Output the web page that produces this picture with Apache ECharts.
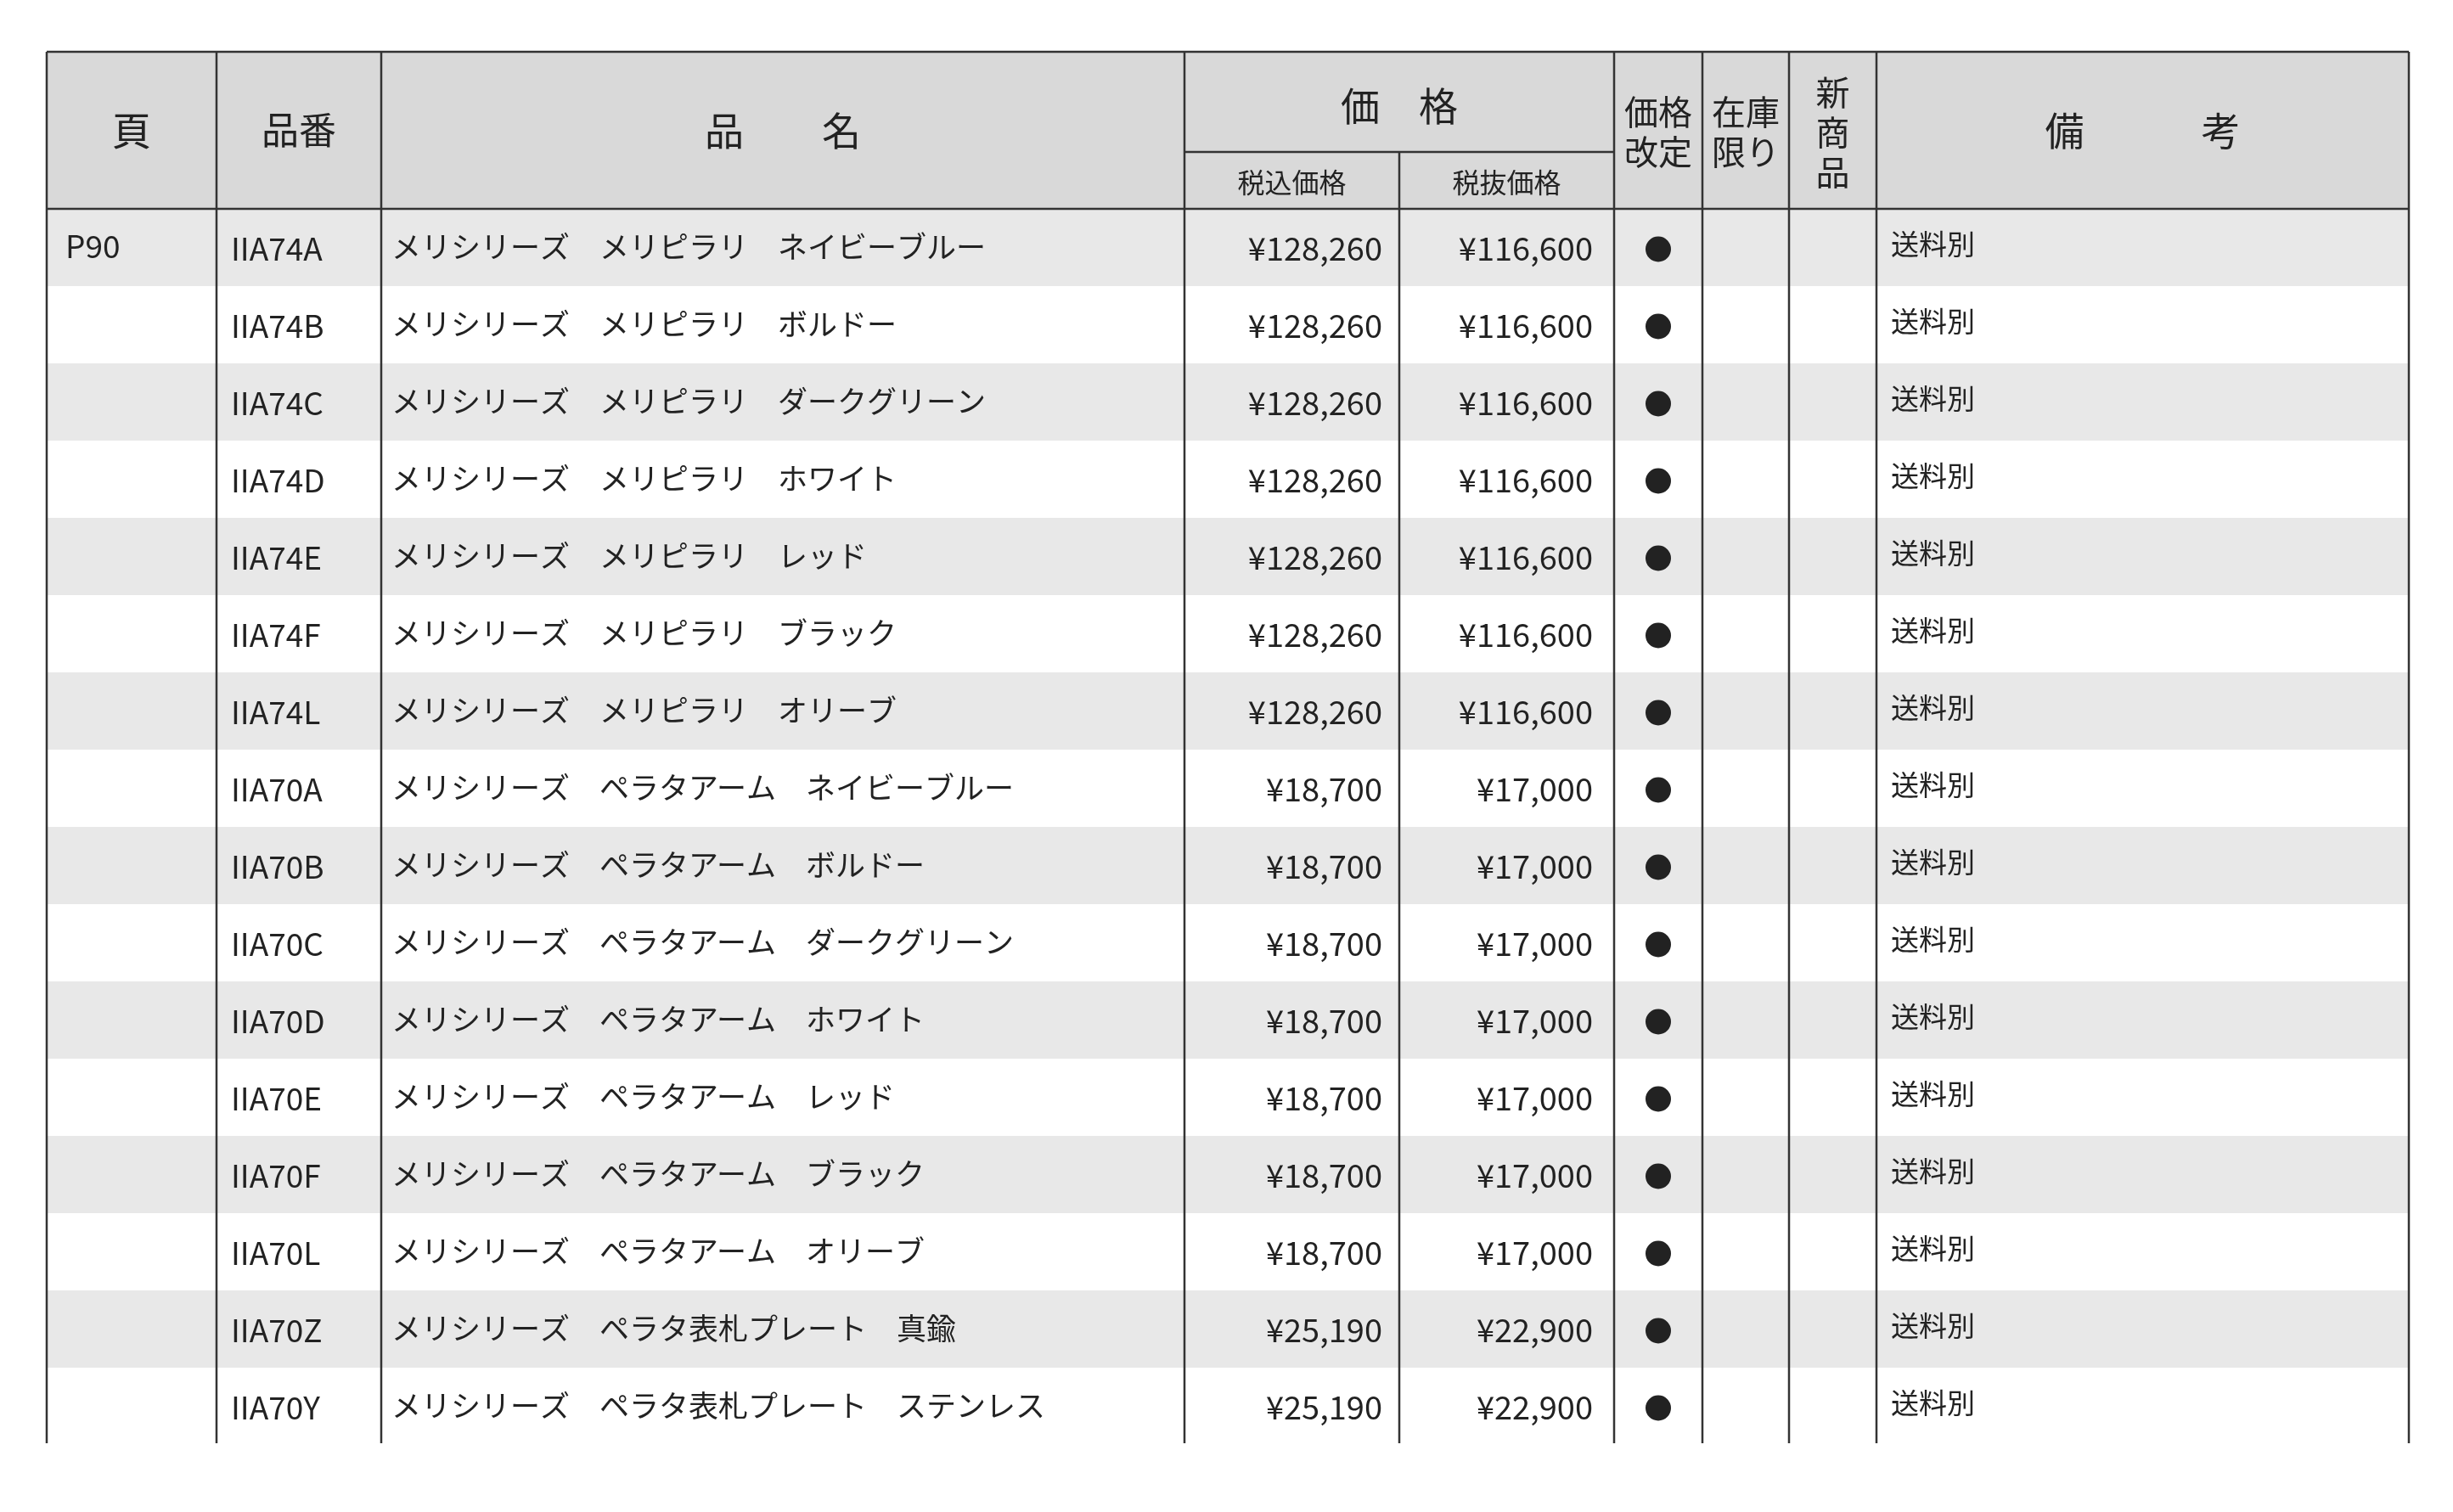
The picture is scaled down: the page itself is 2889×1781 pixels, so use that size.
<!DOCTYPE html>
<html><head><meta charset="utf-8">
<script src="https://cdn.jsdelivr.net/npm/echarts@6/dist/echarts.min.js"></script>
<style>html,body{margin:0;background:#fff}#c{width:2889px;height:1781px}</style>
</head><body><div id="c"></div>
<script>
// 価格表のデータ
var pages = ['P90', '', '', '', '', '', '', '', '', '', '', '', '', '', '', ''];
var codes = ['IIA74A','IIA74B','IIA74C','IIA74D','IIA74E','IIA74F','IIA74L','IIA70A','IIA70B','IIA70C','IIA70D','IIA70E','IIA70F','IIA70L','IIA70Z','IIA70Y'];
var names = [
  'メリシリーズ　メリピラリ　ネイビーブルー','メリシリーズ　メリピラリ　ボルドー','メリシリーズ　メリピラリ　ダークグリーン',
  'メリシリーズ　メリピラリ　ホワイト','メリシリーズ　メリピラリ　レッド','メリシリーズ　メリピラリ　ブラック',
  'メリシリーズ　メリピラリ　オリーブ','メリシリーズ　ペラタアーム　ネイビーブルー','メリシリーズ　ペラタアーム　ボルドー',
  'メリシリーズ　ペラタアーム　ダークグリーン','メリシリーズ　ペラタアーム　ホワイト','メリシリーズ　ペラタアーム　レッド',
  'メリシリーズ　ペラタアーム　ブラック','メリシリーズ　ペラタアーム　オリーブ','メリシリーズ　ペラタ表札プレート　真鍮',
  'メリシリーズ　ペラタ表札プレート　ステンレス'];
var taxIn = [128260,128260,128260,128260,128260,128260,128260,18700,18700,18700,18700,18700,18700,18700,25190,25190];
var taxEx = [116600,116600,116600,116600,116600,116600,116600,17000,17000,17000,17000,17000,17000,17000,22900,22900];
var revised = [1,1,1,1,1,1,1,1,1,1,1,1,1,1,1,1];
var notes = codes.map(function(){ return '送料別'; });

(function () {
// レイアウト
var colX = [55, 255, 449, 1395, 1648, 1901, 2005, 2107, 2210, 2837];
var tableTop = 61, subY = 179, headBottom = 246, rowH = 91, bottom = 1700;
var font = '"Noto Sans CJK JP", "Noto Sans", sans-serif';
var ink = '#222';

function yen(v) { return '¥' + v.toLocaleString('en-US'); }
function txt(x, y, s, size, align) {
  return { type: 'text', x: x, y: y, style: { text: s, font: size + 'px ' + font, fill: ink, align: align || 'left', verticalAlign: 'middle' } };
}
function line(x1, y1, x2, y2) {
  return { type: 'line', shape: { x1: x1, y1: y1, x2: x2, y2: y2 }, style: { stroke: '#333', lineWidth: 2.5 } };
}

var els = [];
els.push({ type: 'rect', shape: { x: colX[0], y: tableTop, width: colX[9] - colX[0], height: headBottom - tableTop }, style: { fill: '#d9d9d9' } });
codes.forEach(function (c, i) {
  var y = headBottom + i * rowH;
  if (i % 2 === 0) els.push({ type: 'rect', shape: { x: colX[0], y: y, width: colX[9] - colX[0], height: rowH }, style: { fill: '#e8e8e8' } });
  var cy = y + rowH / 2 + 1;
  els.push(txt(colX[0] + 22, cy - 3, pages[i], 37));
  els.push(txt(colX[1] + 17, cy, c, 37));
  els.push(txt(colX[2] + 12, cy - 2, names[i], 35));
  els.push(txt(colX[4] - 20, cy, yen(taxIn[i]), 38, 'right'));
  els.push(txt(colX[5] - 25, cy, yen(taxEx[i]), 38, 'right'));
  if (revised[i]) els.push({ type: 'circle', shape: { cx: (colX[5] + colX[6]) / 2, cy: cy + 1, r: 15 }, style: { fill: '#222' } });
  els.push(txt(colX[8] + 17, cy - 5, notes[i], 33));
});

// 見出し
var hy = (tableTop + headBottom) / 2;
els.push(txt((colX[0] + colX[1]) / 2, hy, '頁', 46, 'center'));
els.push(txt((colX[1] + colX[2]) / 2, hy, '品番', 44, 'center'));
els.push(txt((colX[2] + colX[3]) / 2, hy, '品　　名', 46, 'center'));
els.push(txt((colX[3] + colX[5]) / 2, (tableTop + subY) / 2 + 5, '価　格', 46, 'center'));
els.push(txt((colX[3] + colX[4]) / 2, (subY + headBottom) / 2 + 2, '税込価格', 32, 'center'));
els.push(txt((colX[4] + colX[5]) / 2, (subY + headBottom) / 2 + 2, '税抜価格', 32, 'center'));
els.push(txt((colX[5] + colX[6]) / 2, hy - 22, '価格', 40, 'center'));
els.push(txt((colX[5] + colX[6]) / 2, hy + 25, '改定', 40, 'center'));
els.push(txt((colX[6] + colX[7]) / 2, hy - 22, '在庫', 40, 'center'));
els.push(txt((colX[6] + colX[7]) / 2, hy + 25, '限り', 40, 'center'));
els.push(txt((colX[7] + colX[8]) / 2, hy - 45, '新', 40, 'center'));
els.push(txt((colX[7] + colX[8]) / 2, hy + 2, '商', 40, 'center'));
els.push(txt((colX[7] + colX[8]) / 2, hy + 49, '品', 40, 'center'));
els.push(txt((colX[8] + colX[9]) / 2, hy, '備　　　考', 46, 'center'));

// 罫線
els.push(line(colX[0], tableTop, colX[9], tableTop));
els.push(line(colX[0], headBottom, colX[9], headBottom));
els.push(line(colX[3], subY, colX[5], subY));
colX.forEach(function (x, k) {
  els.push(line(x, (k === 4 ? subY : tableTop), x, bottom));
});

var chart = echarts.init(document.getElementById('c'));
chart.setOption({ animation: false, graphic: { elements: els } });
})();
</script>
</body></html>
